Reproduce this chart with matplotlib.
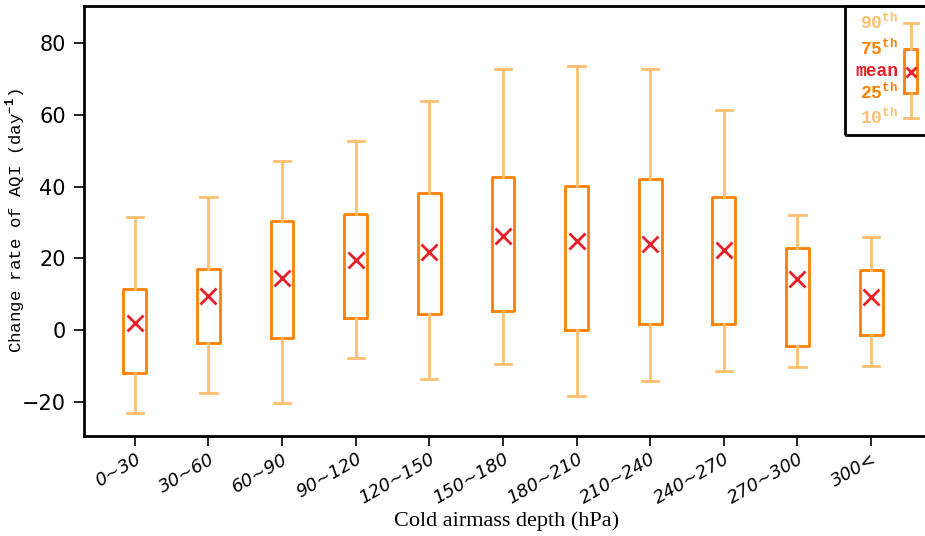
import matplotlib
matplotlib.use("Agg")
import matplotlib.pyplot as plt
from matplotlib.patches import Rectangle

plt.rcParams["mathtext.fontset"] = "custom"
plt.rcParams["mathtext.rm"] = "Liberation Mono:bold"
plt.rcParams["mathtext.bf"] = "Liberation Mono:bold"

# data
categories = ["0~30", "30~60", "60~90", "90~120", "120~150", "150~180",
              "180~210", "210~240", "240~270", "270~300", "300<"]
p10 = [-23.1, -17.6, -20.3, -7.8, -13.7, -9.5, -18.4, -14.2, -11.3, -10.3, -10.0]
p25 = [-12.0, -3.5, -2.2, 3.3, 4.5, 5.2, 0.0, 1.7, 1.7, -4.5, -1.4]
means = [2.0, 9.4, 14.4, 19.5, 21.8, 26.2, 24.8, 24.0, 22.2, 14.3, 9.2]
p75 = [11.5, 17.0, 30.4, 32.3, 38.2, 42.6, 40.1, 42.2, 37.0, 23.0, 16.7]
p90 = [31.5, 37.0, 47.2, 52.7, 63.8, 72.8, 73.5, 72.8, 61.2, 32.0, 25.9]

box_col = "#ff8000"
whisk_col = "#ffbf70"
mean_col = "#e8202a"

W, H = 925, 536
fig = plt.figure(figsize=(W / 100, H / 100), dpi=100)
ax = fig.add_axes([84 / W, 100 / H, (930 - 84) / W, 430 / H])

x = list(range(1, len(categories) + 1))
stats = []
for i in range(len(categories)):
    stats.append(dict(whislo=p10[i], q1=p25[i], med=means[i], q3=p75[i],
                      whishi=p90[i], fliers=[]))

ax.bxp(stats, positions=x, widths=0.31, showfliers=False,
       boxprops=dict(color=box_col, linewidth=2),
       whiskerprops=dict(color=whisk_col, linewidth=2),
       capprops=dict(color=whisk_col, linewidth=2),
       medianprops=dict(linewidth=0), capwidths=0.22)
ax.plot(x, means, "x", color=mean_col, markersize=11, markeredgewidth=2, zorder=5)

ax.set_xlim(0.31, 11.8)
ax.set_ylim(-29.5, 90.3)
ax.set_yticks([-20, 0, 20, 40, 60, 80])
ax.set_xticks(x)
ax.set_xticklabels(categories, rotation=30, ha="right", rotation_mode="anchor",
                   fontsize=13, style="italic")
ax.tick_params(axis="y", labelsize=15, direction="out", length=7, width=1.2, pad=6)
ax.tick_params(axis="x", direction="out", length=7, width=1.2, pad=3)
for s in ["left", "bottom", "top"]:
    ax.spines[s].set_linewidth(2)
ax.spines["right"].set_visible(False)

ax.set_ylabel(r"Change rate of AQI (day$^{-1}$)", family="Liberation Mono",
              fontsize=12.5)
ax.yaxis.set_label_coords(-0.066, 0.5)
ax.set_xlabel("Cold airmass depth (hPa)", family="Liberation Serif",
              fontsize=16, labelpad=3)

# legend key in the upper right corner
lx = fig.add_axes([845 / W, (536 - 135) / H, 90 / W, 129 / H])
lx.set_xlim(0, 90)
lx.set_ylim(0, 129)
lx.axis("off")
lx.add_patch(Rectangle((0, 0), 90, 129, fill=False, edgecolor="black",
                       linewidth=2, clip_on=False))
key = [dict(whislo=17, q1=42, med=63, q3=86, whishi=112, fliers=[])]
lx.bxp(key, positions=[66], widths=13, showfliers=False,
       boxprops=dict(color=box_col, linewidth=2),
       whiskerprops=dict(color=whisk_col, linewidth=2),
       capprops=dict(color=whisk_col, linewidth=2),
       medianprops=dict(linewidth=0), capwidths=14)
lx.plot([66], [63], "x", color=mean_col, markersize=7, markeredgewidth=2)
kfont = dict(family="Liberation Mono", fontsize=13, fontweight="bold",
             ha="right", va="center")
lx.text(53, 112, r"90$^{\mathrm{th}}$", color=whisk_col, **kfont)
lx.text(53, 86, r"75$^{\mathrm{th}}$", color=box_col, **kfont)
lx.text(53, 63, "mean", color=mean_col, **kfont)
lx.text(53, 42, r"25$^{\mathrm{th}}$", color=box_col, **kfont)
lx.text(53, 17, r"10$^{\mathrm{th}}$", color=whisk_col, **kfont)

fig.savefig("out.png", dpi=100)
